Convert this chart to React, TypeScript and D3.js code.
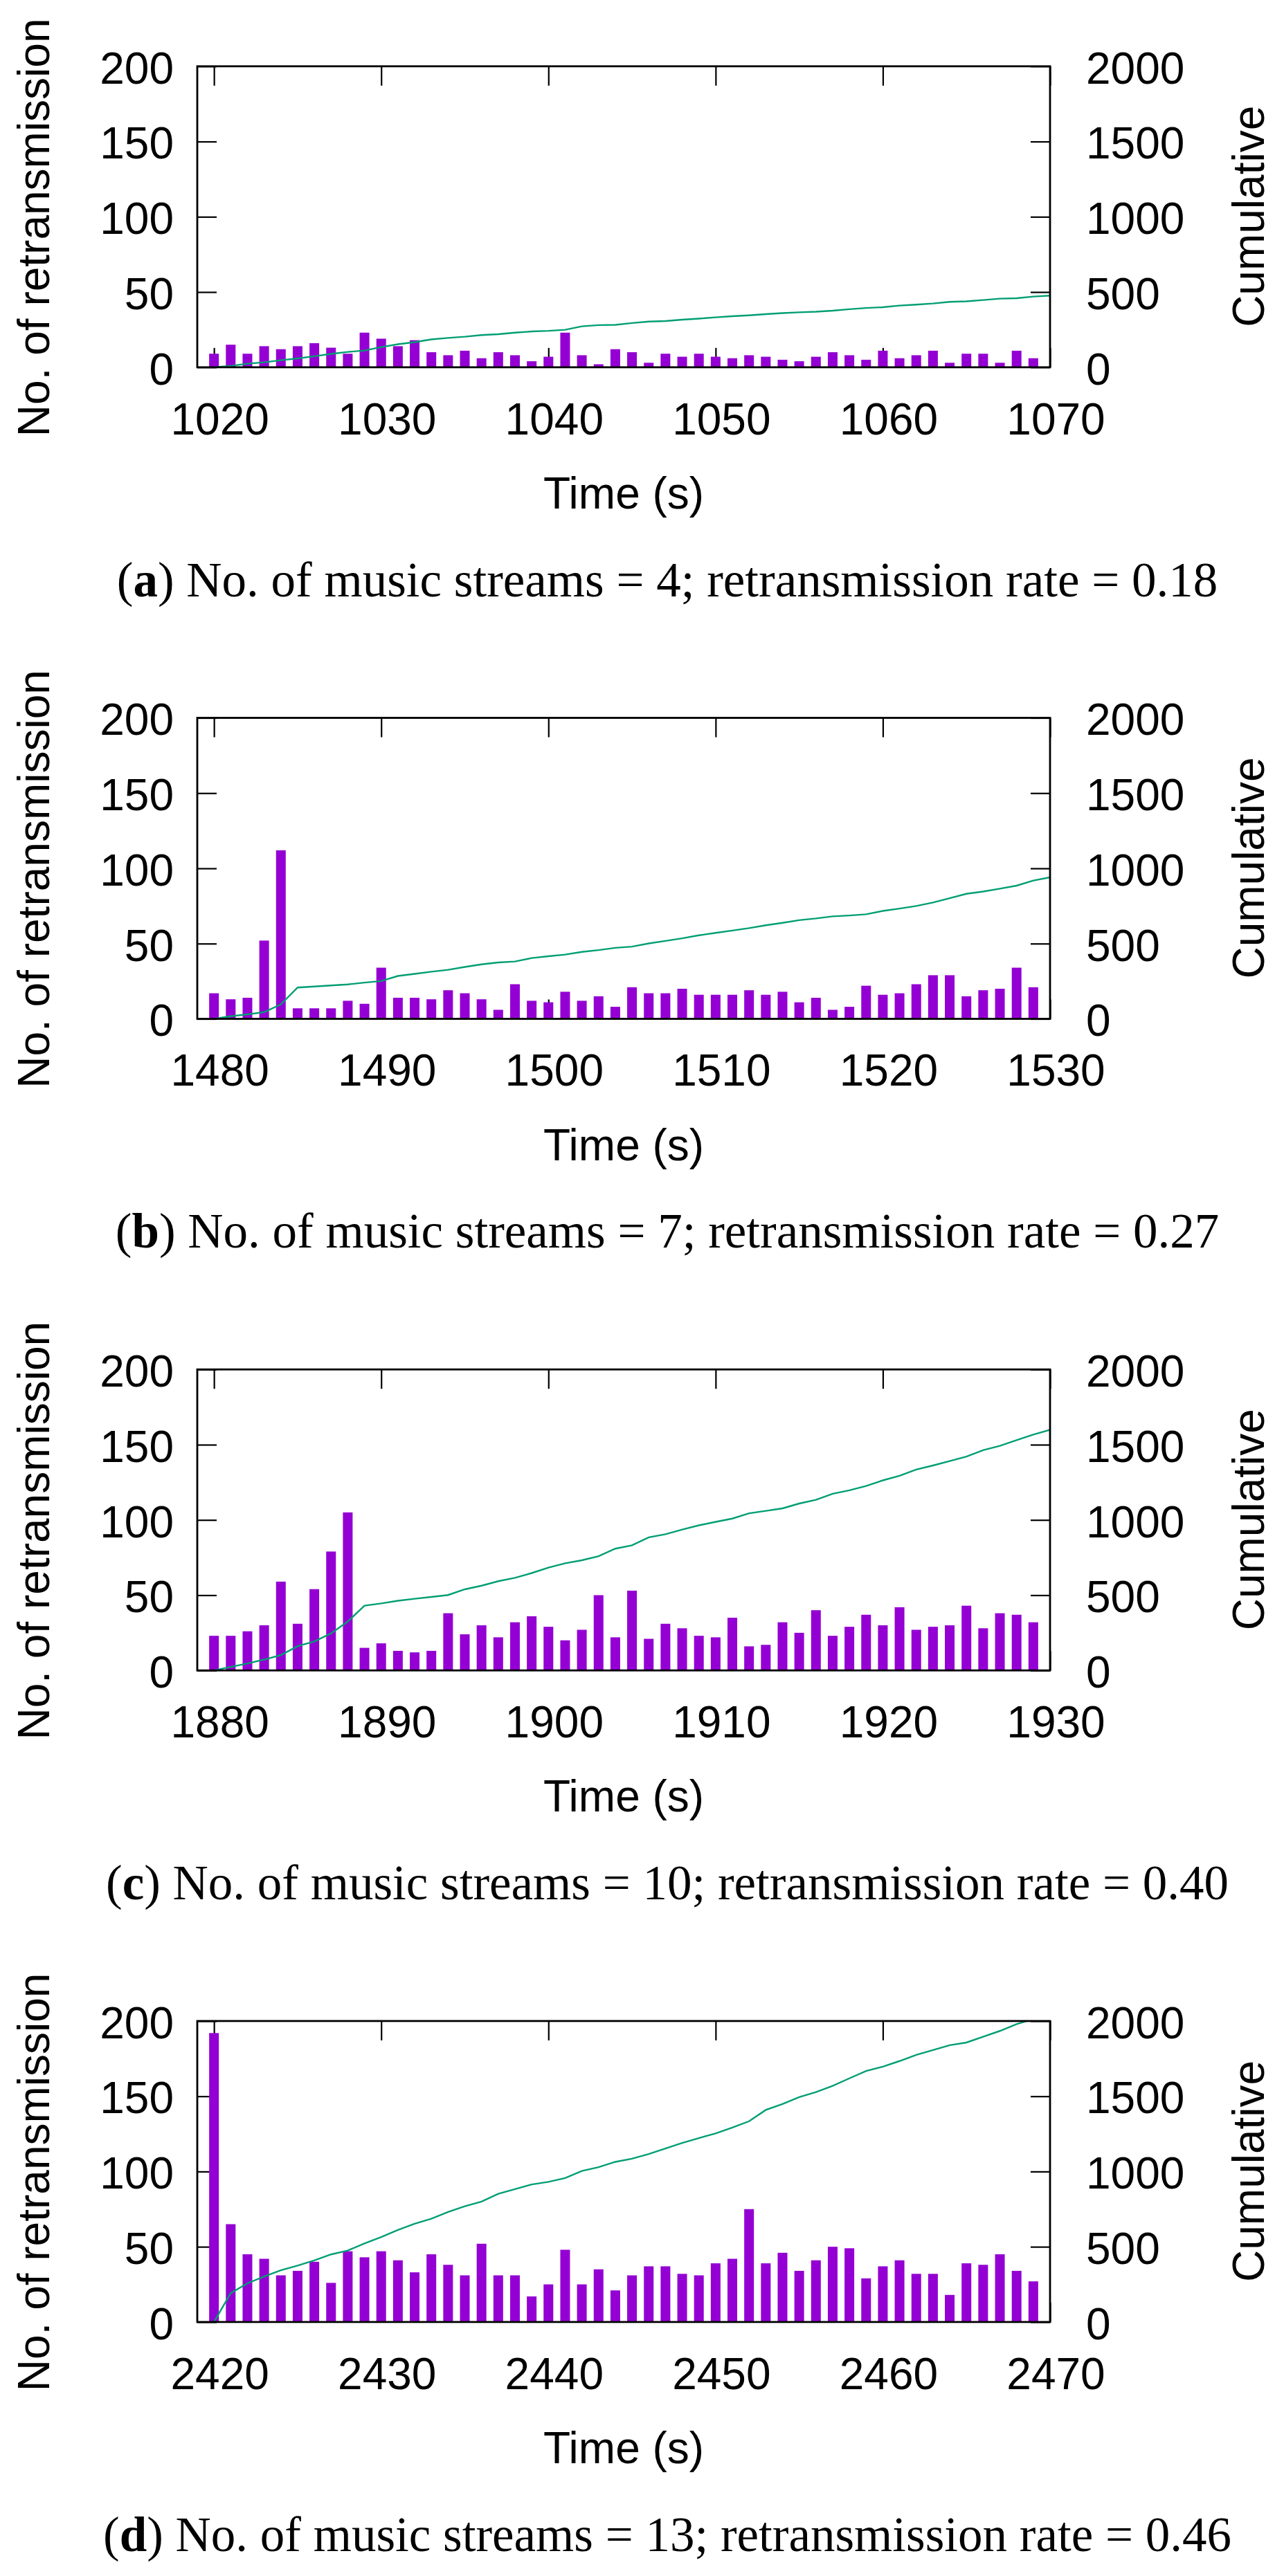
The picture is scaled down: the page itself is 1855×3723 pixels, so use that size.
import React, { useEffect, useRef } from "react"
import * as d3 from "d3"

const WIDTH = 1855
const HEIGHT = 3723

// layout (px)
const PANEL_TOP = 95.8
const PANEL_PITCH = 941.7
const PLOT_LEFT = 285
const PLOT_RIGHT = 1517
const PLOT_H = 435
const TICK = 28

const BAR_COLOR = "#9400d3"
const LINE_COLOR = "#009e73"
const SANS = "'Liberation Sans', Arial, Helvetica, sans-serif"
const SERIF = "'Liberation Serif', 'Times New Roman', serif"

// first second of each panel (one bar per second, 50 seconds)
const startTimes = [1020, 1480, 1880, 2420]

// retransmissions per second
const retransA = [
    9, 15, 9, 14, 12, 14, 16, 13, 9, 23,
    19, 14, 18, 10, 8, 11, 6, 10, 8, 4,
    7, 23, 8, 2, 12, 10, 3, 9, 7, 9,
    7, 6, 8, 7, 5, 4, 7, 10, 8, 5,
    11, 6, 8, 11, 3, 9, 9, 3, 11, 6,
]
const retransB = [
    17, 13, 14, 52, 112, 7, 7, 7, 12, 10,
    34, 14, 14, 13, 19, 17, 13, 6, 23, 12,
    11, 18, 12, 15, 8, 21, 17, 17, 20, 16,
    16, 16, 19, 16, 18, 11, 14, 6, 8, 22,
    16, 17, 23, 29, 29, 15, 19, 20, 34, 21,
]
const retransC = [
    23, 23, 26, 30, 59, 31, 54, 79, 105, 15,
    18, 13, 12, 13, 38, 24, 30, 22, 32, 36,
    29, 20, 27, 50, 22, 53, 21, 31, 28, 23,
    22, 35, 16, 17, 32, 25, 40, 23, 29, 37,
    30, 42, 27, 29, 30, 43, 28, 38, 37, 32,
]
const retransD = [
    192, 65, 45, 42, 31, 34, 40, 26, 47, 43,
    47, 41, 33, 45, 38, 31, 52, 31, 31, 17,
    25, 48, 25, 35, 21, 31, 37, 37, 32, 31,
    39, 42, 75, 39, 46, 34, 41, 50, 49, 29,
    37, 41, 32, 32, 18, 39, 38, 45, 34, 27,
]
const allRetrans = [retransA, retransB, retransC, retransD]

const panelLetters = ["a", "b", "c", "d"]
const musicStreams = [4, 7, 10, 13]
const retransRates = ["0.18", "0.27", "0.40", "0.46"]

const yTicks = [0, 50, 100, 150, 200]
const y2Ticks = [0, 500, 1000, 1500, 2000]

const RetransmissionPanels: React.FC = () => {
    const svgRef = useRef<SVGSVGElement | null>(null)

    useEffect(() => {
        if (!svgRef.current) return
        const svg = d3.select(svgRef.current)
        svg.selectAll("*").remove()

        svg.append("rect").attr("width", WIDTH).attr("height", HEIGHT).attr("fill", "#fff")

        const yScale = d3.scaleLinear().domain([0, 200]).range([PLOT_H, 0])
        const y2Scale = d3.scaleLinear().domain([0, 2000]).range([PLOT_H, 0])
        const fmt = d3.format("d")

        allRetrans.forEach((values, p) => {
            const start = startTimes[p]
            const top = PANEL_TOP + p * PANEL_PITCH
            const xScale = d3
                .scaleLinear()
                .domain([start - 1, start + 50])
                .range([PLOT_LEFT, PLOT_RIGHT])
            const xTicks = d3.range(start, start + 51, 10)

            const g = svg.append("g").attr("transform", `translate(0,${top})`)

            const clipId = `clip-${p}`
            g.append("clipPath")
                .attr("id", clipId)
                .append("rect")
                .attr("x", PLOT_LEFT)
                .attr("y", 0)
                .attr("width", PLOT_RIGHT - PLOT_LEFT)
                .attr("height", PLOT_H)

            // axes (inward ticks on all four sides)
            const styleAxis = (sel: d3.Selection<SVGGElement, unknown, null, undefined>) => {
                sel.select(".domain").remove()
                sel.selectAll(".tick line").attr("stroke", "#000").attr("stroke-width", 2.2)
                sel.selectAll(".tick text")
                    .attr("fill", "#000")
                    .style("font-family", SANS)
                    .style("font-size", "64px")
            }

            g.append("g")
                .attr("transform", `translate(0,${PLOT_H})`)
                .call(d3.axisBottom(xScale).tickValues(xTicks).tickFormat(fmt).tickSize(-TICK).tickPadding(51.5))
                .call(styleAxis)
                .selectAll(".tick text")
                .attr("dx", 8)

            g.append("g")
                .call(d3.axisTop(xScale).tickValues(xTicks).tickFormat(() => "").tickSize(-TICK))
                .call(styleAxis)

            g.append("g")
                .attr("transform", `translate(${PLOT_LEFT},0)`)
                .call(d3.axisLeft(yScale).tickValues(yTicks).tickFormat(fmt).tickSize(-TICK).tickPadding(34))
                .call(styleAxis)
                .selectAll(".tick text")
                .attr("dy", "0.38em")

            g.append("g")
                .attr("transform", `translate(${PLOT_RIGHT},0)`)
                .call(d3.axisRight(y2Scale).tickValues(y2Ticks).tickFormat(fmt).tickSize(-TICK).tickPadding(52))
                .call(styleAxis)
                .selectAll(".tick text")
                .attr("dy", "0.38em")

            // bars
            const bw = 0.58
            g.append("g")
                .selectAll("rect")
                .data(values)
                .enter()
                .append("rect")
                .attr("x", (_, i) => xScale(start + i - bw / 2))
                .attr("width", xScale(start + bw) - xScale(start))
                .attr("y", d => yScale(d))
                .attr("height", d => PLOT_H - yScale(d))
                .attr("fill", BAR_COLOR)

            // cumulative retransmissions (running total of the bars)
            const cum = d3.cumsum(values)
            const pts: [number, number][] = [[start, 0], ...values.map((_, i) => [start + i + 1, cum[i]] as [number, number])]
            const line = d3
                .line<[number, number]>()
                .x(d => xScale(d[0]))
                .y(d => y2Scale(d[1]))
            g.append("path")
                .datum(pts)
                .attr("clip-path", `url(#${clipId})`)
                .attr("d", line)
                .attr("fill", "none")
                .attr("stroke", LINE_COLOR)
                .attr("stroke-width", 2.4)

            // frame
            g.append("rect")
                .attr("x", PLOT_LEFT)
                .attr("y", 0)
                .attr("width", PLOT_RIGHT - PLOT_LEFT)
                .attr("height", PLOT_H)
                .attr("fill", "none")
                .attr("stroke", "#000")
                .attr("stroke-width", 2.8)

            // axis titles
            g.append("text")
                .attr("transform", `translate(71,233) rotate(-90)`)
                .attr("text-anchor", "middle")
                .style("font-family", SANS)
                .style("font-size", "64px")
                .text("No. of retransmission")

            g.append("text")
                .attr("transform", `translate(1826,217) rotate(-90)`)
                .attr("text-anchor", "middle")
                .style("font-family", SANS)
                .style("font-size", "64px")
                .text("Cumulative")

            g.append("text")
                .attr("x", (PLOT_LEFT + PLOT_RIGHT) / 2)
                .attr("y", 639.2)
                .attr("text-anchor", "middle")
                .style("font-family", SANS)
                .style("font-size", "64px")
                .text("Time (s)")

            // caption
            const cap = g
                .append("text")
                .attr("x", 964)
                .attr("y", 765.9)
                .attr("text-anchor", "middle")
                .style("font-family", SERIF)
                .style("font-size", "71px")
            cap.append("tspan").text("(")
            cap.append("tspan").attr("font-weight", "bold").text(panelLetters[p])
            cap.append("tspan").text(
                `) No. of music streams = ${musicStreams[p]}; retransmission rate = ${retransRates[p]}`
            )
        })
    }, [])

    return (
        <svg
            ref={svgRef}
            width={WIDTH}
            height={HEIGHT}
            style={{ position: "absolute", left: 0, top: 0, display: "block" }}
        />
    )
}

export default function App() {
    return <RetransmissionPanels />
}
